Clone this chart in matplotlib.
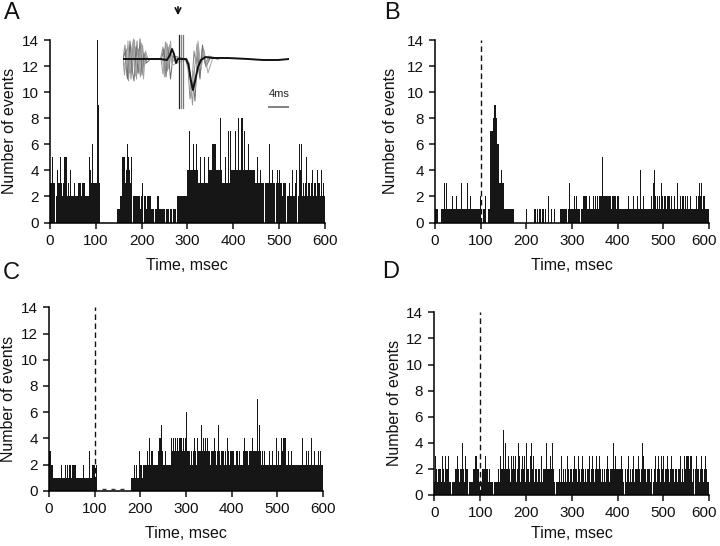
import numpy as np
import matplotlib
matplotlib.use("Agg")
import matplotlib.pyplot as plt
from matplotlib.transforms import ScaledTranslation

plt.rcParams['font.family'] = ['Liberation Sans', 'DejaVu Sans']

BIN_MS = 2  # histogram bin width (ms)

counts_A = [
    3,3,5,3,3, 4,3,2,4,3, 3,5,3,2,3, 5,5,5,3,2, 3,2,4,2,2, 2,3,2,2,2, 3,3,3,3,2, 3,3,3,2,2, 2,2,2,5,4, 3,6,3,3,3,
    3,14,9,3,0, 0,0,0,0,0, 0,0,0,0,0, 0,0,0,0,0, 0,0,0,1,1, 1,2,2,2,5, 5,5,3,4,6, 5,4,3,5,5, 5,2,2,2,2, 2,2,2,1,2,
    3,3,2,2,2, 1,2,2,2,2, 1,1,1,1,1, 1,1,2,2,1, 1,1,1,1,1, 2,2,1,1,1, 0,1,1,0,1, 1,1,1,2,2, 2,2,2,2,2, 2,2,2,2,2,
    4,4,7,4,4, 4,6,4,4,6, 4,4,3,3,5, 3,3,3,5,3, 3,3,5,3,4, 4,4,6,6,6, 6,4,4,4,4, 4,8,4,3,3, 3,5,3,3,7, 3,7,4,4,4,
    4,4,7,4,4, 8,4,4,8,4, 8,4,7,4,4, 4,6,4,4,4, 4,3,4,4,3, 3,5,3,3,4, 3,3,3,4,3, 3,3,3,3,6, 3,3,4,3,3, 3,5,3,4,3,
    4,3,3,2,3, 3,3,8,2,2, 2,3,2,2,4, 2,2,3,4,2, 3,2,6,4,6, 2,3,2,3,5, 2,2,3,3,2, 3,4,2,3,3, 2,4,3,2,3, 2,4,2,3,2,
]
counts_B = [
    1,1,1,0,0, 0,0,1,1,1, 3,1,3,1,1, 1,1,2,1,2, 1,1,1,2,1, 1,1,1,1,3, 1,1,1,1,1, 3,1,1,2,1, 1,1,1,1,1, 1,1,1,1,2,
    0,1,0,1,1, 2,0,0,1,1, 7,7,7,8,8, 9,9,8,6,6, 3,3,4,3,3, 2,1,1,1,1, 1,1,1,1,1, 1,0,0,0,0, 0,0,0,0,0, 0,0,0,0,0,
    1,0,0,0,0, 0,0,0,1,0, 1,0,1,0,1, 1,0,1,1,0, 1,0,0,0,2, 0,0,1,0,0, 1,0,0,0,0, 0,0,1,1,1, 1,1,1,1,1, 0,1,3,1,1,
    1,1,2,1,2, 1,1,1,1,0, 1,1,2,2,2, 2,1,2,1,2, 1,1,1,2,1, 2,1,2,1,1, 2,2,2,5,2, 2,2,2,2,2, 2,2,2,1,2, 2,2,2,1,2,
    2,1,1,1,1, 1,1,1,1,1, 1,2,1,3,1, 1,1,2,1,1, 1,2,1,1,4, 1,1,1,2,1, 1,1,1,1,1, 1,1,2,1,3, 4,2,1,2,1, 2,1,3,4,2,
    1,2,2,1,2, 2,2,1,2,1, 1,1,2,1,1, 3,1,1,2,1, 2,1,2,1,2, 1,2,1,1,2, 1,1,2,1,1, 1,2,1,2,3, 2,3,1,2,1, 2,1,1,1,1,
]
counts_C = [
    3,3,2,2,1, 2,1,1,1,1, 1,1,1,2,1, 1,1,1,2,1, 2,1,2,2,1, 2,2,2,1,2, 1,1,1,1,1, 1,1,2,1,1, 1,1,1,1,3, 1,1,2,2,2,
    1,2,2,0,0, 0,0,0,0,0, 0,0,0,0,0, 0,0,0,0,0, 0,0,0,0,0, 0,0,0,0,0, 0,0,0,0,0, 0,0,0,0,0, 1,1,1,2,1, 2,1,1,1,3,
    2,2,1,2,2, 2,2,3,2,2, 4,2,3,3,2, 2,2,2,2,3, 4,2,4,5,3, 2,2,3,2,2, 2,2,2,2,4, 3,4,3,4,3, 4,3,4,4,3, 4,3,4,3,4,
    6,3,3,3,2, 3,3,2,3,4, 3,2,4,3,3, 3,5,3,3,4, 3,4,3,4,3, 3,2,3,5,3, 3,4,3,2,3, 5,3,2,3,3, 2,3,2,3,2, 4,3,2,3,3,
    3,2,3,2,2, 3,3,2,3,2, 2,2,3,3,4, 3,3,3,2,3, 3,3,4,3,3, 3,3,3,7,3, 5,3,2,3,2, 3,2,2,2,2, 2,3,2,2,3, 2,2,2,3,4,
    2,3,2,2,4, 3,4,4,4,2, 2,2,3,2,2, 3,2,2,2,2, 2,3,2,2,2, 2,2,4,2,2, 2,3,2,2,3, 2,2,4,2,2, 3,2,2,2,4, 3,2,3,2,2,
]
counts_D = [
    1,3,2,1,2, 2,2,1,3,2, 2,1,3,2,2, 3,1,1,0,1, 1,2,1,2,2, 3,2,1,2,2, 4,2,1,2,3, 2,2,0,1,1, 1,1,2,2,3, 2,3,2,2,1,
    0,1,2,2,2, 3,2,3,2,1, 2,1,1,1,0, 1,1,1,1,1, 2,1,3,2,2, 5,2,4,2,2, 3,2,2,1,3, 2,3,2,3,1, 2,4,3,2,1, 2,3,2,3,1,
    4,2,2,1,3, 2,4,2,3,1, 2,2,1,2,2, 1,3,2,1,2, 2,2,4,2,2, 2,3,2,4,2, 2,1,0,1,1, 1,2,1,3,1, 2,3,1,2,1, 3,2,1,2,2,
    1,2,3,1,2, 2,1,3,2,1, 2,3,2,1,2, 3,1,2,2,3, 1,2,3,2,1, 2,3,1,2,2, 3,2,1,2,1, 2,1,2,3,1, 2,1,2,2,2, 4,2,3,2,2,
    2,1,2,2,3, 2,1,0,2,1, 2,3,1,2,2, 1,2,3,1,2, 2,2,3,2,1, 5,2,4,3,2, 2,1,2,2,2, 1,2,0,0,1, 2,3,1,2,3, 2,1,3,2,2,
    3,1,2,2,3, 2,1,2,3,2, 2,3,1,2,2, 1,2,2,3,1, 2,1,3,2,2, 3,3,3,2,3, 3,1,2,0,2, 1,3,2,2,1, 2,3,2,1,2, 3,2,1,1,1,
]
# tiny marks on the baseline during the silent period in panel C
marks_C = [120, 140, 160]

x_ticks = [0, 100, 200, 300, 400, 500, 600]
y_ticks = [0, 2, 4, 6, 8, 10, 12, 14]
stim_ms = 100
xlabel = "Time, msec"
ylabel = "Number of events"

# inset waveform (time in ms, amplitude in arbitrary units)
mean_t = [0, 7.5, 8.8, 9.4, 9.8, 10.2, 10.6, 11.0, 12.6, 13.1, 13.6, 14.0, 14.5, 15.0, 15.6, 16.5, 18, 21, 25, 28, 31, 33.2]
mean_v = [0, 0, -1, 4, 10, 5, -4, 0, 0, -6, -22, -31, -20, -8, -1, 2, 1, 1, 0, -1, -1, 0]
g1_t = [0,0.4,0.8,1.2,1.6,2.0,2.4,2.8,3.2,3.6,4.0,4.4,4.8,5.5,7.5,8.0,8.4,8.8,9.2,9.6,10.0,10.5,12.5,13.0,13.4,13.8,14.2,14.6,15.0,15.5,16.0,16.5,17.5,19]
g1_v = [0,14,-18,12,-20,16,-8,18,-15,8,-10,5,0,0,0,12,-14,15,-10,6,2,0,0,-10,-40,-25,8,-5,12,-12,6,-4,1,0]
g2_t = [0,0.3,0.7,1.1,1.5,1.9,2.3,2.7,3.1,3.5,3.9,4.3,4.8,5.5,7.6,8.0,8.5,8.9,9.3,9.8,10.4,12.6,13.1,13.5,13.9,14.3,14.8,15.3,15.8,16.4,17.2,19]
g2_v = [0,-16,10,-22,15,-12,19,-20,10,-18,14,-6,0,0,0,-15,17,-12,14,-4,1,0,-6,-20,-46,-10,15,-18,10,-5,3,0]
g3_t = [0,0.5,0.9,1.4,1.8,2.2,2.6,3.0,3.4,3.8,4.2,4.7,5.5,7.7,8.2,8.6,9.0,9.5,10.0,12.7,13.2,13.6,14.0,14.4,14.9,15.4,15.9,16.6,17.5,19]
g3_v = [0,8,-20,18,-10,-22,12,-14,20,-16,6,-4,0,0,10,-18,12,-20,3,0,-4,-30,-22,-42,5,-20,14,-8,2,0]
g4_t = [0,0.6,1.0,1.3,1.7,2.1,2.5,2.9,3.3,3.7,4.1,4.5,5.0,7.9,8.3,8.7,9.1,9.5,9.9,12.8,13.3,13.7,14.1,14.5,15.0,15.6,16.2,17.0,18,19]
g4_v = [0,-10,18,-14,9,20,-17,6,-12,16,-20,8,0,0,-18,16,-8,18,-6,0,-8,-38,-12,-30,18,-10,9,-14,2,0]
artifact_t = [11.1, 11.5, 12.0]
artifact_v = (-49, 24)
scale_ms = 4

W, H = 720, 546
fig = plt.figure(figsize=(7.2, 5.46), dpi=100)


def rect(x0, y0, x1, y1):
    return [x0 / W, 1 - y1 / H, (x1 - x0) / W, (y1 - y0) / H]


panels = [
    ("A", counts_A, rect(50, 40, 325, 222.5), (12, 13), False),
    ("B", counts_B, rect(435, 40, 709, 222.5), (392, 13), True),
    ("C", counts_C, rect(49, 307.3, 323, 490.7), (11, 273), True),
    ("D", counts_D, rect(434.3, 312.3, 709.3, 495), (391, 272), True),
]

axes = {}
for name, counts, r, lpos, dashed in panels:
    ax = fig.add_axes(r)
    axes[name] = ax
    edges = np.arange(len(counts)) * BIN_MS
    ax.bar(edges, counts, width=BIN_MS, align='edge', color='#161616', linewidth=0)
    if dashed:
        ax.plot([stim_ms, stim_ms], [0, 14], color='#111111', lw=1.0, ls=(0, (4, 2.5)))
    ax.set_xlim(0, 600)
    ax.set_ylim(0, 14)
    ax.set_xticks(x_ticks)
    ax.set_yticks(y_ticks)
    for s in ['top', 'right']:
        ax.spines[s].set_visible(False)
    for s in ['left', 'bottom']:
        ax.spines[s].set_linewidth(1.1)
    ax.tick_params(direction='out', length=4, width=1.1, labelsize=11, pad=4, colors='#111111')
    ax.set_xlabel(xlabel, fontsize=11.5, color='#111111')
    ax.set_ylabel(ylabel, fontsize=11.5, color='#111111')
    ax.patch.set_visible(False)
    fig.text(lpos[0] / W, 1 - lpos[1] / H, name, fontsize=17, ha='center', va='center', color='#111111')

axes["C"].plot(marks_C, [0.12] * len(marks_C), ls='none', marker='_', ms=3, mew=1.0, color='#333333')

# label positions (px)
label_pos = {"A": ((187, 266), (10, 131)), "B": ((572, 266), (391, 131)),
             "C": ((186, 533), (9, 399)), "D": ((572, 533), (394, 403))}
for name, (xl, yl) in label_pos.items():
    ax = axes[name]
    ax.xaxis.set_label_coords(xl[0] / W, 1 - xl[1] / H, transform=fig.transFigure)
    ax.yaxis.set_label_coords(yl[0] / W, 1 - yl[1] / H, transform=fig.transFigure)
    ax.xaxis.label.set_va('center')
    ax.yaxis.label.set_va('center')

# right-most x tick label on the right-hand panels sits slightly inward
for name in ["B", "D"]:
    lab = axes[name].get_xticklabels()[-1]
    lab.set_transform(lab.get_transform() + ScaledTranslation(-5 / 100, 0, fig.dpi_scale_trans))

# inset waveform in panel A
axi = fig.add_axes(rect(123, 32, 289, 112))
axi.set_xlim(0, 33.2)
axi.set_ylim(-53, 27)
axi.axis('off')
for gt, gv, c in [(g1_t, g1_v, '#8a8a8a'), (g2_t, g2_v, '#9a9a9a'), (g3_t, g3_v, '#6e6e6e'), (g4_t, g4_v, '#a5a5a5')]:
    axi.plot(gt, gv, color=c, lw=0.7)
for at, c in zip(artifact_t, ['#222222', '#888888', '#777777']):
    axi.plot([at, at], artifact_v, color=c, lw=0.9)
axi.plot(mean_t, mean_v, color='#111111', lw=1.4)
axi.plot([33.2 - scale_ms, 33.2], [-48, -48], color='#777777', lw=1.3)
axi.text(33.2 - scale_ms / 2, -40, f"{scale_ms}ms", ha='center', va='bottom', fontsize=8, color='#222222')
axi.annotate('', xy=(11.0, 41), xytext=(11.0, 55), arrowprops=dict(arrowstyle='->', lw=1.2, color='#111111'),
             annotation_clip=False)

fig.savefig("out.png", dpi=100)
